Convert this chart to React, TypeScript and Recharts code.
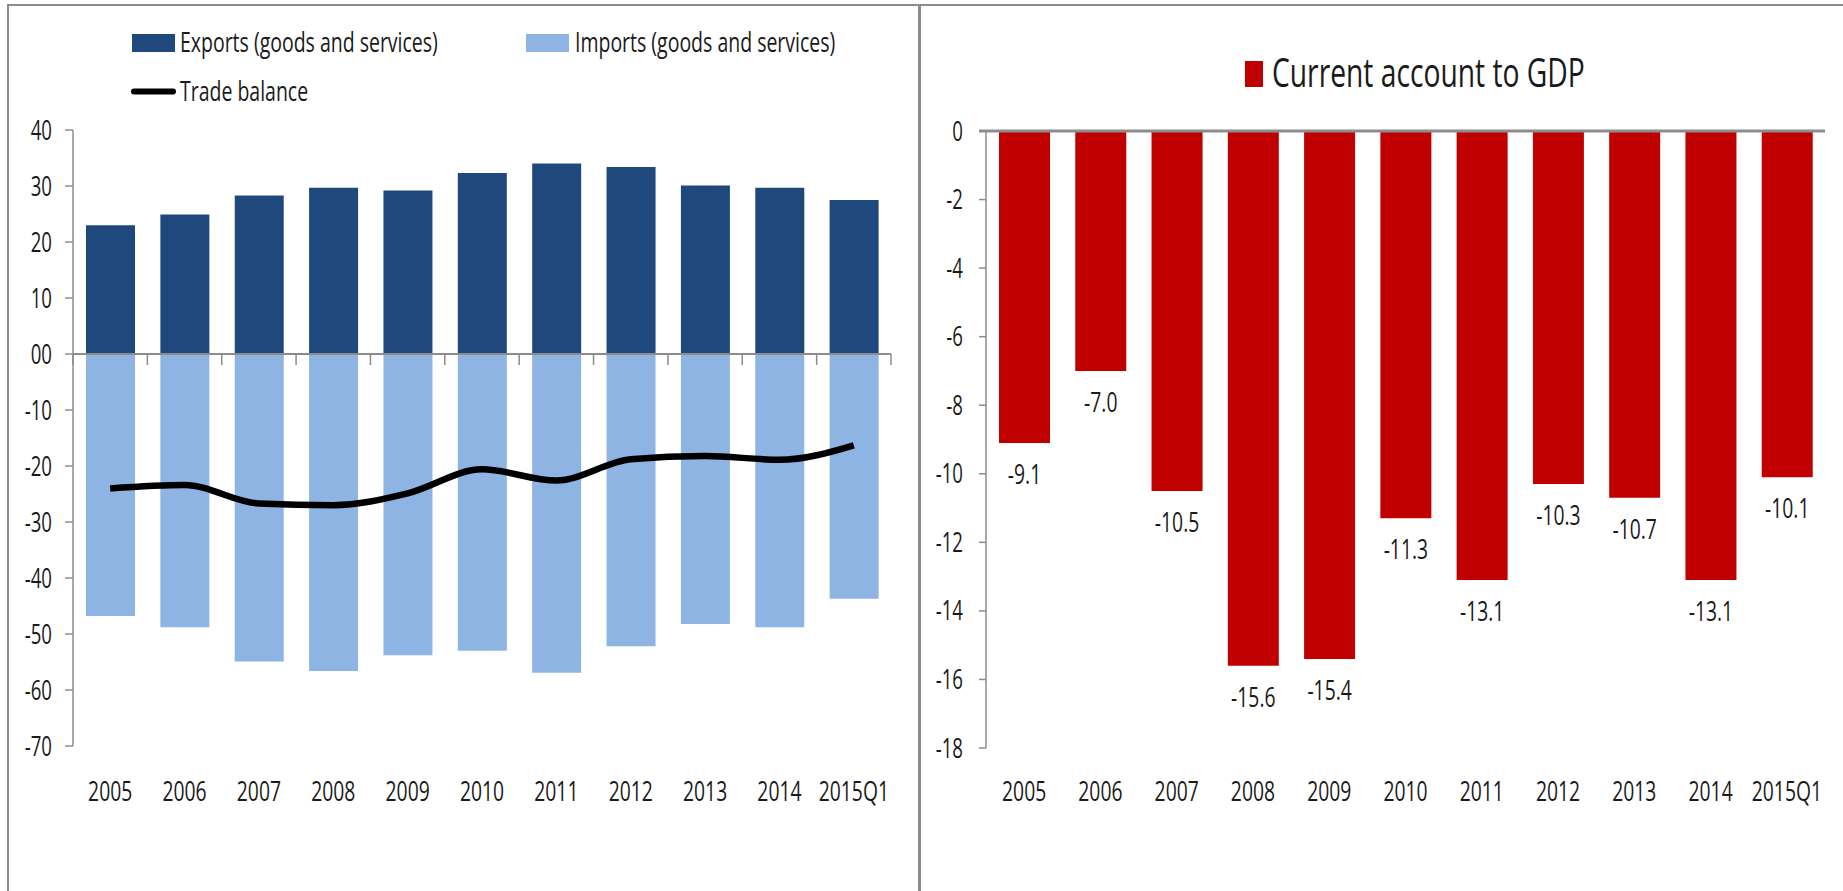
import React from 'react';
import {
  ComposedChart,
  BarChart,
  Bar,
  Line,
  XAxis,
  YAxis,
  ReferenceLine,
  Legend,
  LabelList,
} from 'recharts';

// ---------- data ----------
const categories = ['2005', '2006', '2007', '2008', '2009', '2010', '2011', '2012', '2013', '2014', '2015Q1'];
const exportsValues = [23.0, 24.9, 28.3, 29.7, 29.2, 32.3, 34.0, 33.4, 30.1, 29.7, 27.5];
const importsValues = [-46.8, -48.8, -54.9, -56.6, -53.8, -53.0, -56.9, -52.2, -48.2, -48.8, -43.7];
const tradeBalanceValues = [-24.0, -23.4, -26.7, -27.0, -24.9, -20.6, -22.6, -18.8, -18.2, -18.9, -16.3];
const currentAccountValues = [-9.1, -7.0, -10.5, -15.6, -15.4, -11.3, -13.1, -10.3, -10.7, -13.1, -10.1];
const leftTicks = [40, 30, 20, 10, 0, -10, -20, -30, -40, -50, -60, -70];
const rightTicks = [0, -2, -4, -6, -8, -10, -12, -14, -16, -18];

const seriesNames = {
  exports: 'Exports (goods and services)',
  imports: 'Imports (goods and services)',
  balance: 'Trade balance',
  ca: 'Current account to GDP',
};

const leftData = categories.map((c, i) => ({
  cat: c,
  exports: exportsValues[i],
  imports: importsValues[i],
  balance: tradeBalanceValues[i],
}));
const rightData = categories.map((c, i) => ({ cat: c, ca: currentAccountValues[i] }));

// ---------- style ----------
const SX = 0.69;
const SX_LEGEND = 0.722;
const SX_TITLE = 0.706;
const FONT = '"Open Sans", "Liberation Sans", Arial, sans-serif';
const TXT = '#1a1a1a';
const AXIS = '#8c8c8c';
const C_EXP = '#1F497D';
const C_IMP = '#8DB4E2';
const C_RED = '#C00000';

function LeftYTick(props: any) {
  const { x, y, payload } = props;
  const v = payload.value;
  const label = v === 0 ? '00' : String(v);
  return (
    <g transform={`translate(${x},${y + 10})`}>
      <text transform={`scale(${SX},1)`} textAnchor="end" fontSize={27} fontFamily={FONT} fill={TXT}>
        {label}
      </text>
    </g>
  );
}

function RightYTick(props: any) {
  const { x, y, payload } = props;
  return (
    <g transform={`translate(${x},${y + 9.5})`}>
      <text transform={`scale(${SX},1)`} textAnchor="end" fontSize={27} fontFamily={FONT} fill={TXT}>
        {String(payload.value)}
      </text>
    </g>
  );
}

function makeXTick(dy: number) {
  return function XTick(props: any) {
    const { x, y, payload } = props;
    return (
      <g transform={`translate(${x},${y + dy})`}>
        <text transform={`scale(${SX},1)`} textAnchor="middle" fontSize={28} fontFamily={FONT} fill={TXT}>
          {payload.value}
        </text>
      </g>
    );
  };
}
const LeftXTick = makeXTick(55);
const RightXTick = makeXTick(53);

function ZeroAxisWithTicks(props: any) {
  const { x1, y1, x2, y2 } = props;
  const n = categories.length;
  const step = (x2 - x1) / n;
  const ticks = [];
  for (let i = 0; i <= n; i++) {
    const tx = x1 + i * step;
    ticks.push(<line key={i} x1={tx} x2={tx} y1={y1} y2={y1 + 11} stroke={AXIS} strokeWidth={1.5} />);
  }
  return (
    <g>
      <line x1={x1} y1={y1} x2={x2} y2={y2} stroke={AXIS} strokeWidth={2} />
      {ticks}
    </g>
  );
}

function RightZeroLine(props: any) {
  const { x1, y1, x2, y2 } = props;
  return <line x1={x1 - 7} y1={y1} x2={x2} y2={y2} stroke={AXIS} strokeWidth={3} />;
}

const legendPos: Record<string, { x: number; y: number; tx: number; ty: number }> = {
  exports: { x: 132, y: 34, tx: 180, ty: 52 },
  imports: { x: 526, y: 34, tx: 575, ty: 52 },
  balance: { x: 132, y: 89.5, tx: 180, ty: 101 },
};

function LeftLegend(props: any) {
  const payload = props.payload || [];
  return (
    <svg width={917} height={120} style={{ display: 'block' }}>
      {payload.map((p: any) => {
        const k = String(p.dataKey);
        const pos = legendPos[k];
        if (!pos) return null;
        return (
          <g key={k}>
            {k === 'balance' ? (
              <line x1={pos.x + 2} x2={pos.x + 41} y1={pos.y + 2} y2={pos.y + 2} stroke={p.color} strokeWidth={6} strokeLinecap="round" />
            ) : (
              <rect x={pos.x} y={pos.y} width={43} height={18} fill={p.color} />
            )}
            <g transform={`translate(${pos.tx},${pos.ty})`}>
              <text transform={`scale(${SX_LEGEND},1)`} fontSize={27} fontFamily={FONT} fill={TXT}>
                {p.value}
              </text>
            </g>
          </g>
        );
      })}
    </svg>
  );
}

function RightLegend(props: any) {
  const payload = props.payload || [];
  return (
    <svg width={926} height={110} style={{ display: 'block' }}>
      {payload.map((p: any) => (
        <g key={String(p.dataKey)}>
          <rect x={328} y={61} width={18} height={26} fill={p.color} />
          <g transform={`translate(355,86.5)`}>
            <text transform={`scale(${SX_TITLE},1)`} fontSize={40} fontFamily={FONT} fill={TXT}>
              {p.value}
            </text>
          </g>
        </g>
      ))}
    </svg>
  );
}

function CaLabel(props: any) {
  const { x, y, width, height, value } = props;
  const bottom = Math.max(y, y + height);
  return (
    <g transform={`translate(${x + width / 2},${bottom + 41})`}>
      <text transform={`scale(${SX},1)`} textAnchor="middle" fontSize={28} fontFamily={FONT} fill={TXT}>
        {Number(value).toFixed(1)}
      </text>
    </g>
  );
}

export default function App() {
  return (
    <div style={{ position: 'absolute', left: 0, top: 0, width: 1843, height: 891, overflow: 'hidden', background: '#fff' }}>
      <div
        style={{
          position: 'absolute',
          left: 7,
          top: 4,
          width: 909,
          height: 900,
          borderLeft: `2px solid ${AXIS}`,
          borderTop: `2px solid ${AXIS}`,
          borderRight: `2px solid ${AXIS}`,
        }}
      />
      <div
        style={{
          position: 'absolute',
          left: 919,
          top: 4,
          width: 940,
          height: 900,
          borderLeft: `2px solid ${AXIS}`,
          borderTop: `2px solid ${AXIS}`,
        }}
      />
      <div style={{ position: 'absolute', left: 0, top: 0 }}>
        <ComposedChart
          width={917}
          height={891}
          data={leftData}
          stackOffset="sign"
          margin={{ top: 130, right: 26, bottom: 85, left: 13 }}
        >
          <XAxis
            dataKey="cat"
            type="category"
            interval={0}
            axisLine={false}
            tickLine={false}
            tickSize={0}
            tickMargin={0}
            height={60}
            tick={<LeftXTick />}
          />
          <YAxis
            type="number"
            domain={[-70, 40]}
            ticks={leftTicks}
            interval={0}
            width={60}
            tickSize={8}
            tickMargin={13}
            axisLine={{ stroke: AXIS, strokeWidth: 1.5 }}
            tickLine={{ stroke: AXIS, strokeWidth: 1.5 }}
            tick={<LeftYTick />}
          />
          <Legend
            layout="horizontal"
            verticalAlign="middle"
            align="center"
            wrapperStyle={{ position: 'absolute', left: 0, top: 0, width: 917, height: 120 }}
            content={<LeftLegend />}
          />
          <Bar dataKey="exports" name={seriesNames.exports} stackId="s" fill={C_EXP} barSize={49} isAnimationActive={false} />
          <Bar dataKey="imports" name={seriesNames.imports} stackId="s" fill={C_IMP} barSize={49} isAnimationActive={false} />
          <ReferenceLine y={0} shape={(p: any) => <ZeroAxisWithTicks {...p} />} />
          <Line
            dataKey="balance"
            name={seriesNames.balance}
            type="monotone"
            stroke="#000"
            strokeWidth={6.5}
            dot={false}
            legendType="line"
            isAnimationActive={false}
          />
        </ComposedChart>
      </div>
      <div style={{ position: 'absolute', left: 917, top: 0 }}>
        <BarChart width={926} height={891} data={rightData} margin={{ top: 131, right: 18, bottom: 83, left: 9 }}>
          <XAxis
            dataKey="cat"
            type="category"
            interval={0}
            axisLine={false}
            tickLine={false}
            tickSize={0}
            tickMargin={0}
            height={60}
            tick={<RightXTick />}
          />
          <YAxis
            type="number"
            domain={[-18, 0]}
            ticks={rightTicks}
            interval={0}
            width={60}
            tickSize={7}
            tickMargin={16}
            axisLine={{ stroke: AXIS, strokeWidth: 1.5 }}
            tickLine={{ stroke: AXIS, strokeWidth: 1.5 }}
            tick={<RightYTick />}
          />
          <Legend
            layout="horizontal"
            verticalAlign="middle"
            align="center"
            wrapperStyle={{ position: 'absolute', left: 0, top: 0, width: 926, height: 110 }}
            content={<RightLegend />}
          />
          <Bar dataKey="ca" name={seriesNames.ca} fill={C_RED} barSize={51} isAnimationActive={false}>
            <LabelList dataKey="ca" content={<CaLabel />} />
          </Bar>
          <ReferenceLine y={0} shape={(p: any) => <RightZeroLine {...p} />} />
        </BarChart>
      </div>
    </div>
  );
}
